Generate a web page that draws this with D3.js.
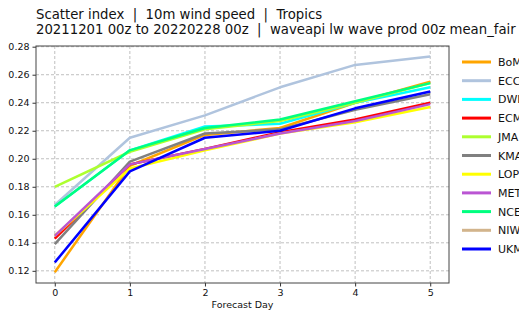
<!DOCTYPE html>
<html><head><meta charset="utf-8">
<script src="https://cdn.jsdelivr.net/npm/d3@7"></script>
<style>body{margin:0;background:#fff;overflow:hidden}svg{display:block;font-family:"DejaVu Sans",sans-serif}.t{white-space:pre}</style>
</head><body><svg id="c" width="519" height="315"></svg>
<script>
const days = [0, 1, 2, 3, 4, 5];
const yTicks = [0.12, 0.14, 0.16, 0.18, 0.20, 0.22, 0.24, 0.26, 0.28];
const centres = ["BoM","ECCC","DWD","ECMWF","JMA","KMA","LOPS","METO","NCEP","NIWA","UKMO"];
const colours = ["#FFA500","#B0C4DE","#00FFFF","#FF0000","#ADFF2F","#808080","#FFFF00","#BA55D3","#00FF7F","#D2B48C","#0000FF"];
const BoM   = [0.119, 0.195, 0.217, 0.222, 0.240, 0.255];
const ECCC  = [0.167, 0.215, 0.231, 0.251, 0.267, 0.273];
const DWD   = [0.166, 0.206, 0.223, 0.225, 0.240, 0.251];
const ECMWF = [0.143, 0.196, 0.207, 0.219, 0.228, 0.240];
const JMA   = [0.180, 0.205, 0.221, 0.227, 0.240, 0.254];
const KMA   = [0.139, 0.198, 0.218, 0.221, 0.235, 0.246];
const LOPS  = [0.145, 0.193, 0.206, 0.218, 0.226, 0.237];
const METO  = [0.145, 0.196, 0.207, 0.218, 0.227, 0.239];
const NCEP  = [0.166, 0.206, 0.222, 0.228, 0.241, 0.254];
const NIWA  = [null, null, null, null, null, null];   // no data visible in the plot
const UKMO  = [0.126, 0.191, 0.215, 0.220, 0.236, 0.248];
const seriesVals = [BoM, ECCC, DWD, ECMWF, JMA, KMA, LOPS, METO, NCEP, NIWA, UKMO];
const titleLines = ["Scatter index  |  10m wind speed  |  Tropics",
                    "20211201 00z to 20220228 00z  |  waveapi lw wave prod 00z mean_fair"];

const svg = d3.select("#c");
const L = 36, R = 449, T = 46, B = 283;
const x = d3.scaleLinear().domain([-0.25, 5.25]).range([L, R]);
const y = d3.scaleLinear().domain([0.1113, 0.2805]).range([B, T]);

// grid
const g = svg.append("g");
g.selectAll(".gx").data(days).join("line")
  .attr("x1", d => x(d)).attr("x2", d => x(d)).attr("y1", T).attr("y2", B)
  .attr("stroke", "#b0b0b0").attr("stroke-width", 0.8).attr("stroke-dasharray", "3,2");
g.selectAll(".gy").data(yTicks).join("line")
  .attr("x1", L).attr("x2", R).attr("y1", d => y(d)).attr("y2", d => y(d))
  .attr("stroke", "#b0b0b0").attr("stroke-width", 0.8).attr("stroke-dasharray", "3,2");

// lines
const line = d3.line().defined(d => d != null).x((d, i) => x(days[i])).y(d => y(d));
svg.append("g").selectAll("path").data(seriesVals).join("path")
  .attr("d", d => line(d) || "").attr("fill", "none")
  .attr("stroke", (d, i) => colours[i]).attr("stroke-width", 2.5)
  .attr("stroke-linejoin", "round");

// axes
const xa = svg.append("g").attr("transform", `translate(0,${B})`)
  .call(d3.axisBottom(x).tickValues(days).tickFormat(d3.format("d")).tickSize(3.5).tickPadding(3));
const ya = svg.append("g").attr("transform", `translate(${L},0)`)
  .call(d3.axisLeft(y).tickValues(yTicks).tickFormat(d3.format(".2f")).tickSize(3.5).tickPadding(3));
[xa, ya].forEach(a => {
  a.select(".domain").remove();
  a.selectAll("line").attr("stroke", "#333");
  a.selectAll("text").attr("font-size", 9.5).attr("fill", "#111").attr("font-family", "DejaVu Sans");
});
svg.append("rect").attr("x", L).attr("y", T).attr("width", R - L).attr("height", B - T)
  .attr("fill", "none").attr("stroke", "#444").attr("stroke-width", 1);

svg.append("text").attr("x", (L + R) / 2).attr("y", 308).attr("text-anchor", "middle")
  .attr("font-size", 9.5).attr("fill", "#111").text("Forecast Day");

// title
svg.selectAll(".t").data(titleLines).join("text").attr("class", "t")
  .attr("x", 36).attr("y", (d, i) => 19 + i * 15)
  .attr("font-size", 13.25).attr("fill", "#111").text(d => d);

// legend
const lg = svg.append("g");
centres.forEach((c, i) => {
  const yy = 62 + i * 18.7;
  lg.append("line").attr("x1", 462).attr("x2", 491).attr("y1", yy).attr("y2", yy)
    .attr("stroke", colours[i]).attr("stroke-width", 3);
  lg.append("text").attr("x", 498).attr("y", yy + 4).attr("font-size", 11).attr("fill", "#111").text(c);
});
</script></body></html>
